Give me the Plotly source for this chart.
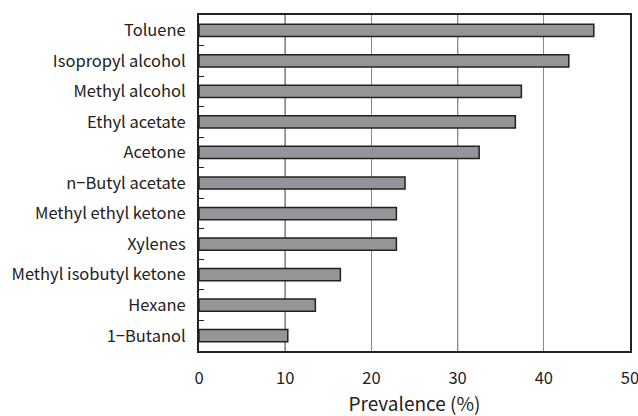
import plotly.graph_objects as go

# Solvent prevalence (%)
solvents = [
    "Toluene", "Isopropyl alcohol", "Methyl alcohol", "Ethyl acetate", "Acetone",
    "n−Butyl acetate", "Methyl ethyl ketone", "Xylenes", "Methyl isobutyl ketone",
    "Hexane", "1−Butanol",
]
prevalence = [45.8, 42.9, 37.4, 36.7, 32.5, 23.9, 22.9, 22.9, 16.4, 13.5, 10.3]
x_ticks = [0, 10, 20, 30, 40, 50]
dark_grid = [10, 30]

FONT = "Noto Sans CJK JP, Noto Sans, sans-serif"

fig = go.Figure(
    go.Bar(
        x=prevalence,
        y=solvents,
        orientation="h",
        width=0.4,
        marker=dict(color="#939598", line=dict(color="#222222", width=1.5)),
    )
)

for v in dark_grid:
    fig.add_shape(
        type="line", x0=v, x1=v, y0=0, y1=1, xref="x", yref="paper",
        line=dict(color="#333333", width=1.2), layer="below",
    )

fig.update_layout(
    width=638,
    height=416,
    margin=dict(l=199, r=8, t=15, b=65),
    plot_bgcolor="white",
    paper_bgcolor="white",
    font=dict(family=FONT, size=16.5, color="#222222"),
    showlegend=False,
    bargap=0.6,
)

fig.update_xaxes(
    range=[0, 50],
    tickvals=x_ticks,
    ticks="",
    showgrid=True,
    gridcolor="#8a8a8a",
    gridwidth=1.2,
    showline=True,
    linecolor="#222222",
    linewidth=2,
    mirror=True,
    zeroline=False,
    automargin=False,
    ticklabeloverflow="allow",
    ticklabelstandoff=11,
    title=dict(text="Prevalence (%)", font=dict(size=19), standoff=22),
)

fig.update_yaxes(
    autorange="reversed",
    ticks="inside",
    tickson="boundaries",
    ticklen=5,
    tickcolor="#222222",
    showline=True,
    linecolor="#222222",
    linewidth=2,
    mirror=True,
    showgrid=False,
    automargin=False,
    ticklabelstandoff=8,
)

fig.write_html("out.html")
